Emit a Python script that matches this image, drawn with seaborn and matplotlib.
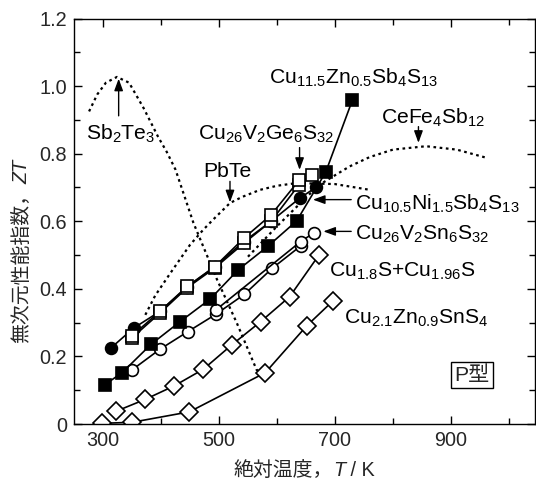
import numpy as np
import pandas as pd
import matplotlib
matplotlib.use("Agg")
import matplotlib.pyplot as plt
import seaborn as sns

# ---------------- data ----------------
# Cu11.5Zn0.5Sb4S13 (filled squares)
zn_T = [303, 333, 383, 433, 485, 533, 585, 634, 684, 730]
zn_ZT = [0.116, 0.152, 0.236, 0.303, 0.370, 0.456, 0.527, 0.601, 0.745, 0.958]
# Cu10.5Ni1.5Sb4S13 (filled circles)
ni_T = [313, 353, 398, 445, 493, 543, 590, 639, 667]
ni_ZT = [0.224, 0.284, 0.333, 0.405, 0.466, 0.540, 0.600, 0.668, 0.700]
# Cu26V2Ge6S32 (open squares, two samples)
ge1_T = [350, 398, 445, 493, 543, 590, 638]
ge1_ZT = [0.261, 0.333, 0.407, 0.466, 0.550, 0.619, 0.721]
ge2_T = [350, 398, 445, 493, 543, 590, 638, 660]
ge2_ZT = [0.255, 0.328, 0.403, 0.462, 0.535, 0.600, 0.708, 0.738]
# Cu26V2Sn6S32 (open circles, two samples)
sn1_T = [350, 398, 446, 495, 544, 592, 641]
sn1_ZT = [0.160, 0.221, 0.273, 0.325, 0.384, 0.461, 0.527]
sn2_T = [495, 641, 664]
sn2_ZT = [0.338, 0.540, 0.566]
# Cu1.8S + Cu1.96S (open diamonds)
cus_T = [323, 373, 423, 473, 522, 572, 622, 672]
cus_ZT = [0.038, 0.073, 0.113, 0.162, 0.234, 0.303, 0.377, 0.499]
# Cu2.1Zn0.9SnS4 (open diamonds)
czts_T = [299, 350, 449, 580, 651, 697]
czts_ZT = [0.002, 0.005, 0.036, 0.152, 0.290, 0.365]
# reference materials (dotted curves)
sbte_T = [276, 290, 305, 324, 345, 370, 395, 410, 425, 456, 496, 531, 565, 576]
sbte_ZT = [0.925, 0.975, 1.010, 1.027, 1.010, 0.935, 0.850, 0.805, 0.753, 0.595, 0.430, 0.298, 0.160, 0.150]
pbte_T = [373, 390, 416, 450, 473, 490, 519, 540, 571, 600, 634, 700, 760]
pbte_ZT = [0.323, 0.380, 0.446, 0.530, 0.575, 0.605, 0.654, 0.672, 0.693, 0.705, 0.713, 0.710, 0.693]
cefe_T = [550, 600, 656, 679, 725, 760, 800, 857, 910, 963]
cefe_ZT = [0.495, 0.585, 0.680, 0.714, 0.762, 0.790, 0.812, 0.822, 0.812, 0.787]

x_ticks = [300, 500, 700, 900]
y_ticks = [0, 0.2, 0.4, 0.6, 0.8, 1.0, 1.2]
y_tick_labels = ["0", "0.2", "0.4", "0.6", "0.8", "1.0", "1.2"]

# ---------------- style ----------------
sns.set_theme(style="ticks")
plt.rcParams["font.family"] = ["Liberation Sans", "Noto Sans CJK JP"]
plt.rcParams["mathtext.fontset"] = "custom"
plt.rcParams["mathtext.rm"] = "Liberation Sans"
plt.rcParams["mathtext.it"] = "Liberation Sans:italic"
plt.rcParams["mathtext.bf"] = "Liberation Sans:bold"
plt.rcParams["mathtext.default"] = "regular"

FS = 14.3      # tick labels / axis titles
FA = 15.2      # annotations
W, H = 536, 479
fig = plt.figure(figsize=(W / 100, H / 100), dpi=100)
ax = fig.add_axes([74 / W, 1 - 424 / H, (535 - 74) / W, (424 - 18.5) / H])

dot = (0, (1.2, 1.6))
for T, Z in [(sbte_T, sbte_ZT), (pbte_T, pbte_ZT), (cefe_T, cefe_ZT)]:
    sns.lineplot(x=T, y=Z, ax=ax, color="black", linestyle=dot, linewidth=1.6, sort=False)

def series(T, Z, marker, filled, ms):
    sns.lineplot(x=T, y=Z, ax=ax, color="black", linewidth=1.2, marker=marker,
                 markersize=ms, markerfacecolor="black" if filled else "white",
                 markeredgecolor="black", markeredgewidth=1.2, sort=False)

series(czts_T, czts_ZT, "D", False, 9.5)
series(cus_T, cus_ZT, "D", False, 9.5)
series(sn1_T, sn1_ZT, "o", False, 8.5)
series(sn2_T, sn2_ZT, "o", False, 8.5)
series(zn_T, zn_ZT, "s", True, 8.2)
series(ni_T, ni_ZT, "o", True, 8.5)
series(ge2_T, ge2_ZT, "s", False, 8.6)
series(ge1_T, ge1_ZT, "s", False, 8.6)

ax.set_xlim(250, 1045)
ax.set_ylim(0, 1.2)
ax.set_xticks(x_ticks)
ax.set_xticklabels([str(t) for t in x_ticks], fontsize=FS)
ax.set_xticks([400, 600, 800, 1000], minor=True)
ax.set_yticks(y_ticks)
ax.set_yticklabels(y_tick_labels, fontsize=FS)
ax.set_yticks([0.1, 0.3, 0.5, 0.7, 0.9, 1.1], minor=True)
ax.tick_params(which="both", direction="in", top=True, right=True, color="black", width=1.0)
ax.tick_params(which="major", length=6, pad=5)
ax.tick_params(which="minor", length=4)
ax.set_xlabel("")
ax.set_ylabel("")
for s in ax.spines.values():
    s.set_color("black")
    s.set_linewidth(1.0)

arw = dict(arrowstyle="-|>,head_length=0.6,head_width=0.22", color="black", lw=1.0,
           shrinkA=0, shrinkB=0, mutation_scale=12)

def label(txt, x, y):
    ax.text(x, y, txt, fontsize=FA, ha="left", va="center", color="black")

label("Cu$_{11.5}$Zn$_{0.5}$Sb$_4$S$_{13}$", 586, 1.025)
label("CeFe$_4$Sb$_{12}$", 780, 0.905)
label("Sb$_2$Te$_3$", 270, 0.858)
label("Cu$_{26}$V$_2$Ge$_6$S$_{32}$", 464, 0.856)
label("PbTe", 473, 0.748)
label("Cu$_{10.5}$Ni$_{1.5}$Sb$_4$S$_{13}$", 735, 0.652)
label("Cu$_{26}$V$_2$Sn$_6$S$_{32}$", 735, 0.562)
label("Cu$_{1.8}$S+Cu$_{1.96}$S", 689, 0.452)
label("Cu$_{2.1}$Zn$_{0.9}$SnS$_4$", 716, 0.314)

ax.annotate("", xy=(327, 1.022), xytext=(327, 0.912), arrowprops=arw)
ax.annotate("", xy=(639, 0.752), xytext=(639, 0.818), arrowprops=arw)
ax.annotate("", xy=(519, 0.656), xytext=(519, 0.718), arrowprops=arw)
ax.annotate("", xy=(844, 0.832), xytext=(844, 0.880), arrowprops=arw)
ax.annotate("", xy=(662, 0.664), xytext=(728, 0.664), arrowprops=arw)
ax.annotate("", xy=(680, 0.570), xytext=(728, 0.570), arrowprops=arw)

ax.text(936, 0.145, "P型", fontsize=FA, ha="center", va="center",
        bbox=dict(boxstyle="square,pad=0.15", facecolor="white", edgecolor="black", linewidth=1.0))

# ---- axis titles built from pieces (CJK text + italic symbol) ----
fig.canvas.draw()
r = fig.canvas.get_renderer()

# x title: centred at x=304 px, y=470 px
parts_x = [("絶対温度，", "normal"), ("T", "italic"), (" / K", "normal")]
objs = []
for txt, st in parts_x:
    objs.append(fig.text(0, 1 - 470 / H, txt, fontsize=FS, style=st, ha="left", va="center"))
widths = [o.get_window_extent(r).width for o in objs]
xpos = 304 - sum(widths) / 2
for o, w in zip(objs, widths):
    o.set_x(xpos / W)
    xpos += w

# y title: rotated, bottom at y=343 px, centred at x=22 px
parts_y = [("無次元性能指数，", "normal"), ("ZT", "italic")]
ypos = 343.0
for txt, st in parts_y:
    t = fig.text(22 / W, 1 - ypos / H, txt, fontsize=FS, style=st, rotation=90,
                 ha="center", va="bottom", rotation_mode="default")
    ypos -= t.get_window_extent(r).height

fig.savefig("out.png", dpi=100)
